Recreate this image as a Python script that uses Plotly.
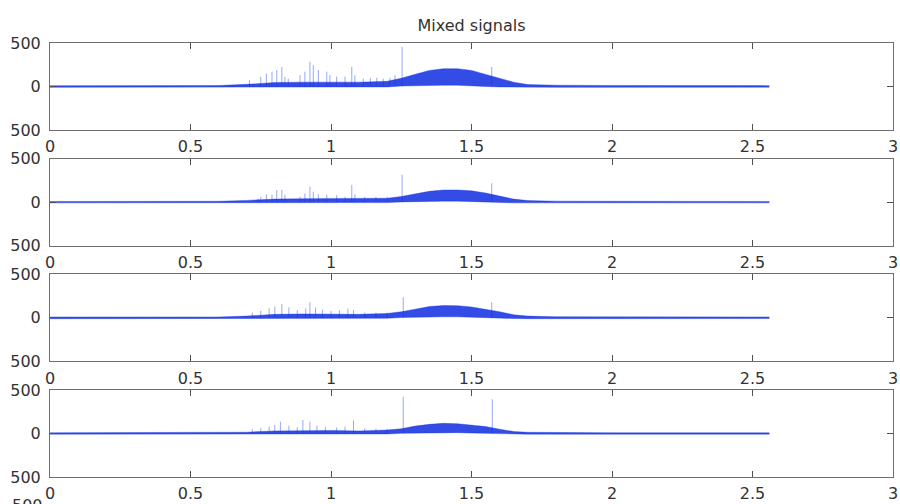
import plotly.graph_objects as go

# ---------------- data ----------------
TITLE = "Mixed signals"
X_TICKS = [0, 0.5, 1, 1.5, 2, 2.5, 3]
X_TICK_LABELS = ["0", "0.5", "1", "1.5", "2", "2.5", "3"]
Y_TICKS = [-500, 0, 500]
Y_TICK_LABELS = ["500", "0", "500"]

# envelope sample positions (time)
ENV_X = [0, 0.2, 0.4, 0.6, 0.7, 0.8, 0.9, 1.0, 1.1, 1.2, 1.25, 1.3, 1.35,
         1.4, 1.45, 1.5, 1.55, 1.6, 1.65, 1.7, 1.8, 2.0, 2.2, 2.4, 2.56]

SIG1_UPPER = [10, 10, 10, 12, 25, 45, 50, 50, 50, 60, 95, 140, 185,
              205, 205, 185, 140, 100, 50, 22, 15, 12, 10, 10, 10]
SIG1_LOWER = [-10, -10, -10, -10, -12, -12, -12, -12, -10, -5, 5, 10, 15,
              15, 15, 5, 0, -5, -8, -10, -10, -10, -8, -8, -8]

SIG2_UPPER = [8, 8, 8, 10, 20, 35, 40, 40, 40, 45, 65, 95, 125,
              140, 140, 130, 105, 70, 35, 18, 12, 10, 8, 8, 8]
SIG2_LOWER = [-8, -8, -8, -8, -10, -10, -10, -10, -8, -5, 3, 8, 10,
              12, 12, 5, 0, -5, -8, -8, -8, -8, -8, -8, -8]

SIG3_UPPER = [10, 10, 10, 10, 20, 40, 45, 45, 40, 50, 70, 100, 130,
              142, 140, 125, 100, 70, 35, 20, 13, 10, 10, 10, 10]
SIG3_LOWER = [-10, -10, -10, -10, -10, -10, -10, -10, -8, -5, 3, 8, 10,
              12, 12, 5, 0, -5, -8, -10, -10, -10, -8, -8, -8]

SIG4_UPPER = [8, 8, 8, 8, 15, 30, 35, 35, 30, 40, 55, 85, 105,
              117, 112, 100, 80, 50, 22, 14, 10, 8, 8, 8, 8]
SIG4_LOWER = [-8, -8, -8, -8, -8, -8, -8, -8, -8, -5, 2, 6, 8,
              10, 10, 5, 0, -5, -8, -8, -8, -8, -8, -8, -8]

# isolated spikes: time and peak value
SPIKE1_X = [0.71, 0.75, 0.77, 0.79, 0.807, 0.825, 0.836, 0.848, 0.89, 0.907, 0.925,
            0.937, 0.955, 0.985, 0.996, 1.02, 1.05, 1.074, 1.085, 1.115, 1.14,
            1.163, 1.186, 1.21, 1.228, 1.253, 1.572]
SPIKE1_H = [72, 110, 150, 170, 190, 225, 110, 90, 130, 170, 285,
            245, 190, 170, 130, 115, 115, 225, 130, 90, 100,
            100, 90, 100, 130, 455, 225]

SPIKE2_X = [0.74, 0.75, 0.77, 0.79, 0.807, 0.825, 0.836, 0.89, 0.907, 0.925, 0.937,
            0.955, 0.985, 1.02, 1.05, 1.074, 1.085, 1.12, 1.16, 1.2, 1.253, 1.572]
SPIKE2_H = [43, 62, 90, 85, 140, 140, 85, 62, 100, 178, 120,
            90, 85, 80, 62, 198, 90, 62, 62, 62, 314, 217]

SPIKE3_X = [0.72, 0.75, 0.78, 0.80, 0.825, 0.85, 0.88, 0.91, 0.925, 0.945, 0.97,
            1.0, 1.03, 1.06, 1.08, 1.12, 1.16, 1.2, 1.257, 1.572]
SPIKE3_H = [60, 80, 110, 130, 160, 120, 90, 110, 180, 120, 95,
            80, 85, 105, 90, 60, 60, 60, 237, 180]

SPIKE4_X = [0.72, 0.75, 0.78, 0.80, 0.82, 0.85, 0.88, 0.90, 0.925, 0.95, 0.98,
            1.02, 1.05, 1.08, 1.12, 1.16, 1.2, 1.257, 1.574]
SPIKE4_H = [50, 65, 80, 100, 136, 90, 70, 155, 136, 90, 75,
            70, 80, 150, 60, 55, 55, 423, 393]

PANELS = [
    (SIG1_UPPER, SIG1_LOWER, SPIKE1_X, SPIKE1_H),
    (SIG2_UPPER, SIG2_LOWER, SPIKE2_X, SPIKE2_H),
    (SIG3_UPPER, SIG3_LOWER, SPIKE3_X, SPIKE3_H),
    (SIG4_UPPER, SIG4_LOWER, SPIKE4_X, SPIKE4_H),
]

# ---------------- layout constants ----------------
W, H = 900, 504
M_L, M_R, M_T, M_B = 50, 7, 43, 27
PLOT_H = H - M_T - M_B
PANEL_H = 87
PANEL_STEP = 115.67
FONT = dict(family="DejaVu Sans", size=16, color="rgb(50,50,50)")
SIG_COLOR = "rgba(15,45,225,0.85)"
SIG_EDGE = "rgba(15,45,225,0.45)"
SPIKE_COLOR = "rgba(45,85,240,0.5)"

fig = go.Figure()
layout_axes = {}

for i, (up, lo, sx, sh) in enumerate(PANELS):
    n = i + 1
    xa = "x" if n == 1 else f"x{n}"
    ya = "y" if n == 1 else f"y{n}"
    # spikes
    spx, spy = [], []
    for x, h in zip(sx, sh):
        spx += [x, x, None]
        spy += [0, h, None]
    fig.add_trace(go.Scatter(x=spx, y=spy, mode="lines", xaxis=xa, yaxis=ya,
                             line=dict(color=SPIKE_COLOR, width=1),
                             hoverinfo="skip", showlegend=False))
    # dense signal band
    fig.add_trace(go.Scatter(x=ENV_X, y=up, mode="lines", xaxis=xa, yaxis=ya,
                             line=dict(color=SIG_EDGE, width=0.8),
                             hoverinfo="skip", showlegend=False))
    fig.add_trace(go.Scatter(x=ENV_X, y=lo, mode="lines", xaxis=xa, yaxis=ya,
                             line=dict(color=SIG_EDGE, width=0.8),
                             fill="tonexty", fillcolor=SIG_COLOR,
                             hoverinfo="skip", showlegend=False))

    top_px = M_T + i * PANEL_STEP
    d_top = min(1.0, max(0.0, 1 - (top_px - M_T) / PLOT_H))
    d_bot = min(1.0, max(0.0, d_top - PANEL_H / PLOT_H))
    common = dict(showline=True, linecolor="rgb(110,110,110)", linewidth=1,
                  mirror="ticks", ticks="inside", ticklen=6,
                  tickcolor="rgb(80,80,80)", tickwidth=1, automargin=False,
                  showgrid=False, zeroline=False, tickfont=FONT)
    key_x = "xaxis" if n == 1 else f"xaxis{n}"
    key_y = "yaxis" if n == 1 else f"yaxis{n}"
    layout_axes[key_x] = dict(common, domain=[0, 1], range=[0, 3],
                              tickvals=X_TICKS, ticktext=X_TICK_LABELS,
                              anchor=ya, ticklabelstandoff=2)
    layout_axes[key_y] = dict(common, domain=[d_bot, d_top], range=[-500, 500],
                              tickvals=Y_TICKS, ticktext=Y_TICK_LABELS,
                              anchor=xa, ticklabelstandoff=5)

# the next (cropped) panel's top label, partly visible at the bottom edge
next_top_px = M_T + 4 * PANEL_STEP
fig.add_annotation(text=Y_TICK_LABELS[-1], xref="paper", yref="paper",
                   x=0, y=1 - (next_top_px - M_T) / PLOT_H,
                   xanchor="right", yanchor="middle", xshift=-5,
                   showarrow=False, font=FONT)

fig.update_layout(
    width=W, height=H,
    margin=dict(l=M_L, r=M_R, t=M_T, b=M_B, autoexpand=False),
    paper_bgcolor="white", plot_bgcolor="white",
    title=dict(text=TITLE, x=(M_L + (W - M_R)) / 2 / W, xanchor="center",
               xref="container", yref="container", y=1 - 25 / H,
               yanchor="middle", font=FONT),
    **layout_axes,
)

fig.write_html("out.html")
